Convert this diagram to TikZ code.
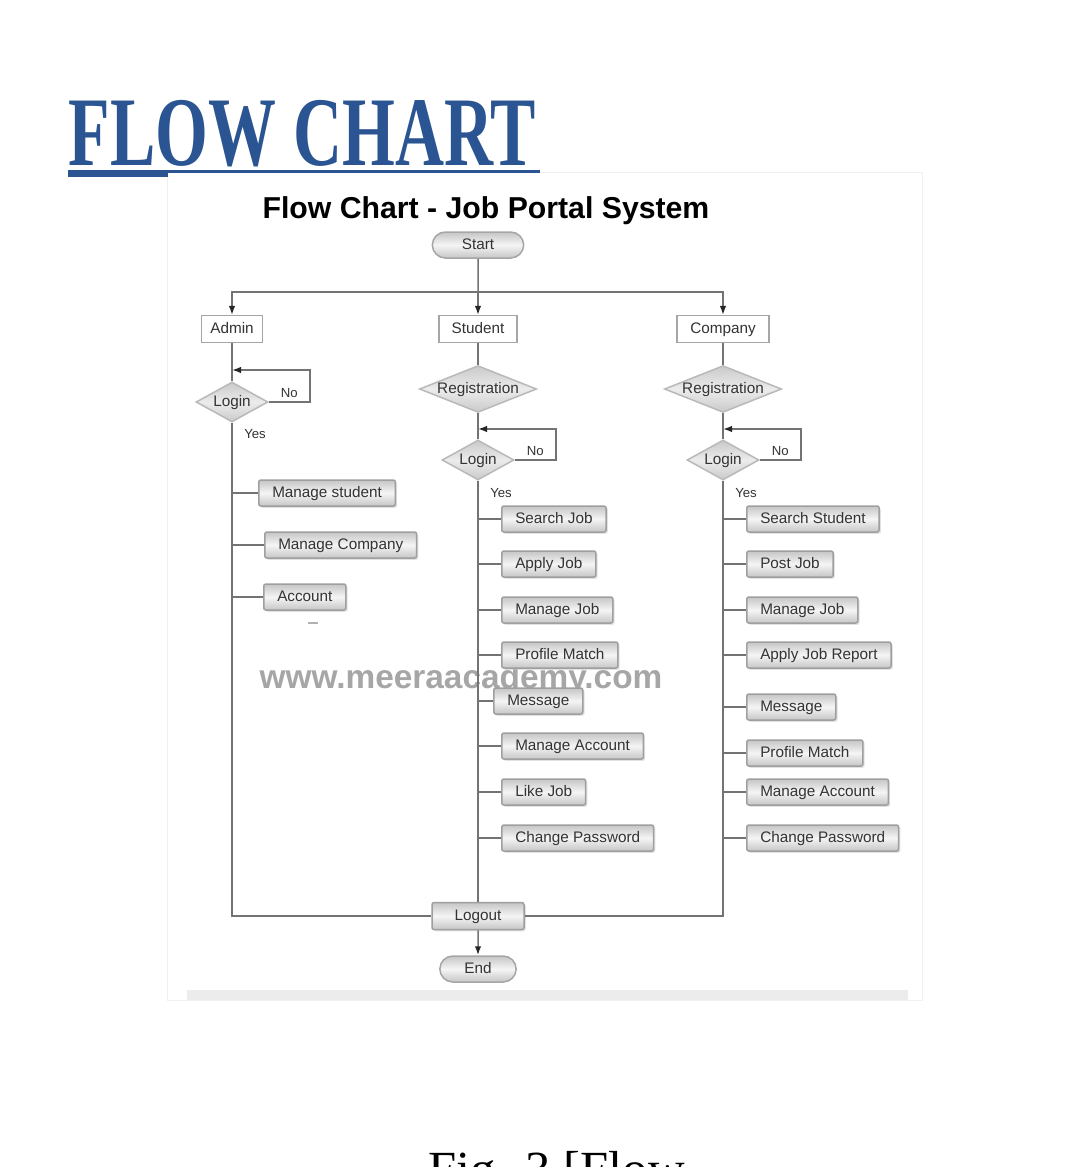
\documentclass[tikz,border=0pt]{standalone}
\usepackage{fontspec}
\setmainfont{Liberation Sans}
\newfontfamily\serifbig{Liberation Serif}
\usepackage{tikz}
\usetikzlibrary{positioning, calc, arrows, arrows.meta, shapes.geometric, shapes.misc, shadows}
\tikzset{>={Latex[length=1.8mm, width=1.3mm, color=black!85]}}
\definecolor{titleblue}{HTML}{2B5592}
\definecolor{linegray}{HTML}{737373}
\definecolor{textgray}{HTML}{333333}

\begin{document}
\begin{tikzpicture}
    [
        x=0.2mm, y=-0.2mm, line width=0.3mm,
        box_text/.style={text=textgray, font=\fontsize{8.7}{10}\selectfont, text height=6.4pt, text depth=1.7pt},
        item_node/.style={box_text, rectangle, rounded corners=1.2pt, draw=gray!75, top color=gray!45, bottom color=gray!45, middle color=gray!8, drop shadow={shadow xshift=0.35mm, shadow yshift=-0.35mm, fill=gray!45}, minimum height=5.2mm, inner xsep=2.7mm, anchor=west},
        role_node/.style={box_text, rectangle, draw=gray!70, fill=white, line width=0.25mm, minimum height=5.4mm},
        term_node/.style={box_text, rounded rectangle, draw=gray!70, top color=gray!45, bottom color=gray!45, middle color=gray!8, minimum height=5.2mm},
        dec_node/.style={box_text, diamond, draw=gray!55, top color=gray!42, bottom color=gray!42, middle color=gray!15, inner sep=0pt},
        lbl_node/.style={text=textgray, font=\fontsize{7.5}{9}\selectfont},
        trunk/.style={draw=linegray},
    ]

  % page and panel
  \useasboundingbox (0,0) rectangle (1080,1167);
  \fill[white] (0,0) rectangle (1080,1167);
  \draw[gray!12, line width=0.2mm] (167,172) rectangle (922,1000);
  \fill[gray!15] (187,990) rectangle (908,1000);

  % heading
  \node[anchor=base west, inner sep=0pt, text=titleblue] (head) at (68,165) {\scalebox{0.69}[1]{\serifbig\bfseries\fontsize{56}{56}\selectfont FLOW CHART}};
  \fill[titleblue] (68,170) rectangle (540,173);
  \fill[titleblue] (68,170) rectangle (168,177);
  \node[anchor=base, inner sep=0pt, font=\bfseries\fontsize{17.2}{20}\selectfont] (title) at (486,218) {Flow Chart - Job Portal System};

  % watermark
  \node[anchor=base, inner sep=0pt, text=gray!70, font=\bfseries\fontsize{19}{22}\selectfont] (mark) at (461,688) {www.meeraacademy.com};

  % start and roles
  \node[term_node, minimum width=20.6mm] (start) at (478,245) {Start};
  \coordinate (split) at (478,292);
  \node[role_node, minimum width=12.2mm] (admin) at (232,329) {Admin};
  \node[role_node, minimum width=15.6mm] (student) at (478,329) {Student};
  \node[role_node, minimum width=18.4mm] (company) at (723,329) {Company};

  % decisions
  \node[dec_node, minimum width=14.4mm, minimum height=8mm, aspect=1.8] (aLogin) at (232,402) {Login};
  \node[dec_node, minimum width=23.2mm, minimum height=9.2mm, aspect=2.5] (sReg) at (478,389) {Registration};
  \node[dec_node, minimum width=14.4mm, minimum height=8mm, aspect=1.8] (sLogin) at (478,460) {Login};
  \node[dec_node, minimum width=23.2mm, minimum height=9.2mm, aspect=2.5] (cReg) at (723,389) {Registration};
  \node[dec_node, minimum width=14.4mm, minimum height=8mm, aspect=1.8] (cLogin) at (723,460) {Login};
  \coordinate (aLoop) at (232,370);
  \coordinate (sLoop) at (478,429);
  \coordinate (cLoop) at (723,429);

  % logout and end
  \node[item_node, anchor=center, minimum width=18.4mm, minimum height=5.4mm] (logout) at (478,916) {Logout};
  \node[term_node, minimum width=17.6mm] (end) at (478,969) {End};

  \draw[trunk] (start) -- (split);
  \draw[trunk, ->] (split) -| (admin);
  \draw[trunk, ->] (split) -- (student);
  \draw[trunk, ->] (split) -| (company);
  \draw[trunk] (admin) -- (aLogin);
  \draw[trunk] (student) -- (sReg);
  \draw[trunk] (sReg) -- (sLogin);
  \draw[trunk] (company) -- (cReg);
  \draw[trunk] (cReg) -- (cLogin);
  \draw[trunk, ->] (aLogin.east) -- node[lbl_node, above=-1pt] {No} ++(41,0) |- (aLoop);
  \draw[trunk, ->] (sLogin.east) -- node[lbl_node, above=-1pt] {No} ++(41,0) |- (sLoop);
  \draw[trunk, ->] (cLogin.east) -- node[lbl_node, above=-1pt] {No} ++(41,0) |- (cLoop);
  \node[lbl_node] (aYes) at (255,434) {Yes};
  \node[lbl_node] (sYes) at (501,493) {Yes};
  \node[lbl_node] (cYes) at (746,493) {Yes};
  \draw[trunk] (aLogin.south) |- (logout.west);
  \draw[trunk] (sLogin.south) -- (logout.north);
  \draw[trunk] (cLogin.south) |- (logout.east);
  \draw[trunk, ->] (logout) -- (end);

  % admin tasks
  \node[item_node] (a1) at (258,493) {Manage student};
  \node[item_node] (a2) at (264,545) {Manage Company};
  \node[item_node] (a3) at (263,597) {Account};
  \draw[gray!60, line width=0.35mm] (308,623) -- (318,623);

  % student tasks
  \node[item_node] (s1) at (501,519) {Search Job};
  \node[item_node] (s2) at (501,564) {Apply Job};
  \node[item_node] (s3) at (501,610) {Manage Job};
  \node[item_node] (s4) at (501,655) {Profile Match};
  \node[item_node] (s5) at (493,701) {Message};
  \node[item_node] (s6) at (501,746) {Manage Account};
  \node[item_node] (s7) at (501,792) {Like Job};
  \node[item_node] (s8) at (501,838) {Change Password};

  % company tasks
  \node[item_node] (c1) at (746,519) {Search Student};
  \node[item_node] (c2) at (746,564) {Post Job};
  \node[item_node] (c3) at (746,610) {Manage Job};
  \node[item_node] (c4) at (746,655) {Apply Job Report};
  \node[item_node] (c5) at (746,707) {Message};
  \node[item_node] (c6) at (746,753) {Profile Match};
  \node[item_node] (c7) at (746,792) {Manage Account};
  \node[item_node] (c8) at (746,838) {Change Password};

  \draw[trunk] (a1.west) -- (a1.west -| aLogin);
  \draw[trunk] (a2.west) -- (a2.west -| aLogin);
  \draw[trunk] (a3.west) -- (a3.west -| aLogin);
  \draw[trunk] (s1.west) -- (s1.west -| sLogin);
  \draw[trunk] (s2.west) -- (s2.west -| sLogin);
  \draw[trunk] (s3.west) -- (s3.west -| sLogin);
  \draw[trunk] (s4.west) -- (s4.west -| sLogin);
  \draw[trunk] (s5.west) -- (s5.west -| sLogin);
  \draw[trunk] (s6.west) -- (s6.west -| sLogin);
  \draw[trunk] (s7.west) -- (s7.west -| sLogin);
  \draw[trunk] (s8.west) -- (s8.west -| sLogin);
  \draw[trunk] (c1.west) -- (c1.west -| cLogin);
  \draw[trunk] (c2.west) -- (c2.west -| cLogin);
  \draw[trunk] (c3.west) -- (c3.west -| cLogin);
  \draw[trunk] (c4.west) -- (c4.west -| cLogin);
  \draw[trunk] (c5.west) -- (c5.west -| cLogin);
  \draw[trunk] (c6.west) -- (c6.west -| cLogin);
  \draw[trunk] (c7.west) -- (c7.west -| cLogin);
  \draw[trunk] (c8.west) -- (c8.west -| cLogin);

  % caption, cut by the page edge
  \node[anchor=base west, inner sep=0pt, font=\serifbig\fontsize{28.8}{30}\selectfont] (cap) at (428,1186) {Fig. 3 [Flow};
\end{tikzpicture}
\end{document}
